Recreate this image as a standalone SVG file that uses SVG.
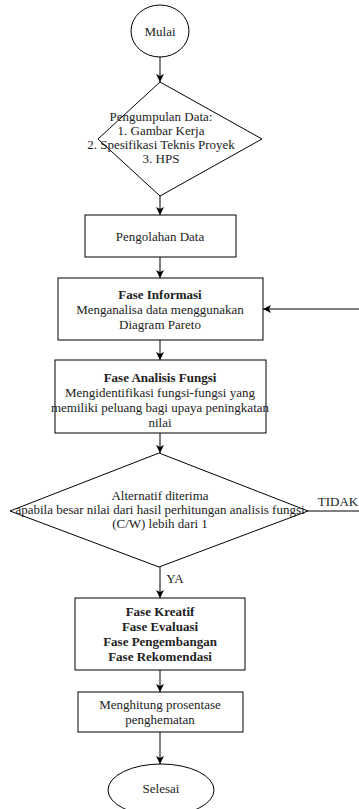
<svg xmlns="http://www.w3.org/2000/svg" width="359" height="809" viewBox="0 0 359 809">
<style>
.s{fill:#fff;stroke:#000;stroke-width:1}
.t{font-family:"Liberation Serif","Times New Roman",serif;font-size:13px;fill:#222;text-anchor:middle}
.b{font-weight:bold}
.c{fill:none;stroke:#000;stroke-width:1}
</style>
<defs>
<marker id="a" markerWidth="10" markerHeight="10" refX="8" refY="5" orient="auto" markerUnits="userSpaceOnUse">
<path d="M0,1 L8,5 L0,9 L2,5 Z" fill="#000"/>
</marker>
</defs>
<g id="edges">
<line class="c" x1="160" y1="57" x2="160" y2="82" marker-end="url(#a)"/>
<line class="c" x1="160" y1="196" x2="160" y2="215" marker-end="url(#a)"/>
<line class="c" x1="160" y1="257" x2="160" y2="278" marker-end="url(#a)"/>
<line class="c" x1="359" y1="309" x2="263" y2="309" marker-end="url(#a)"/>
<line class="c" x1="160" y1="340" x2="160" y2="360" marker-end="url(#a)"/>
<line class="c" x1="160" y1="433" x2="160" y2="453" marker-end="url(#a)"/>
<line class="c" x1="308" y1="511" x2="359" y2="511"/>
<text class="t" x="338" y="506">TIDAK</text>
<line class="c" x1="160" y1="567" x2="160" y2="598" marker-end="url(#a)"/>
<text class="t" x="175" y="583">YA</text>
<line class="c" x1="160" y1="670" x2="160" y2="692" marker-end="url(#a)"/>
<line class="c" x1="160" y1="732" x2="160" y2="764" marker-end="url(#a)"/>
</g>
<g id="mulai">
<ellipse class="s" cx="160" cy="31" rx="29" ry="26"/>
<text class="t" x="160" y="36">Mulai</text>
</g>
<g id="pengumpulan">
<polygon class="s" points="160,82 262,139 160,196 98,139"/>
<text class="t" x="161" y="121">Pengumpulan Data:</text>
<text class="t" x="161" y="135">1. Gambar Kerja</text>
<text class="t" x="161" y="149">2. Spesifikasi Teknis Proyek</text>
<text class="t" x="161" y="163">3. HPS</text>
</g>
<g id="pengolahan">
<rect class="s" x="85" y="215" width="151" height="42"/>
<text class="t" x="160" y="241">Pengolahan Data</text>
</g>
<g id="informasi">
<rect class="s" x="58" y="278" width="205" height="62"/>
<text class="t b" x="160" y="299">Fase Informasi</text>
<text class="t" x="160" y="314">Menganalisa data menggunakan</text>
<text class="t" x="160" y="329">Diagram Pareto</text>
</g>
<g id="analisis">
<rect class="s" x="55" y="360" width="211" height="73"/>
<text class="t b" x="160" y="382">Fase Analisis Fungsi</text>
<text class="t" x="160" y="397">Mengidentifikasi fungsi-fungsi yang</text>
<text class="t" x="160" y="412">memiliki peluang bagi upaya peningkatan</text>
<text class="t" x="160" y="427">nilai</text>
</g>
<g id="keputusan">
<polygon class="s" points="159,453 308,511 159,567 10,511"/>
<text class="t" x="160" y="500">Alternatif diterima</text>
<text class="t" x="160" y="514">apabila besar nilai dari hasil perhitungan analisis fungsi</text>
<text class="t" x="160" y="528">(C/W) lebih dari 1</text>
</g>
<g id="kreatif">
<rect class="s" x="75" y="598" width="170" height="72"/>
<text class="t b" x="160" y="616">Fase Kreatif</text>
<text class="t b" x="160" y="631">Fase Evaluasi</text>
<text class="t b" x="160" y="646">Fase Pengembangan</text>
<text class="t b" x="160" y="661">Fase Rekomendasi</text>
</g>
<g id="menghitung">
<rect class="s" x="78" y="692" width="165" height="40"/>
<text class="t" x="160" y="709">Menghitung prosentase</text>
<text class="t" x="160" y="724">penghematan</text>
</g>
<g id="selesai">
<ellipse class="s" cx="161" cy="790" rx="53" ry="26"/>
<text class="t" x="161" y="793">Selesai</text>
</g>
</svg>
